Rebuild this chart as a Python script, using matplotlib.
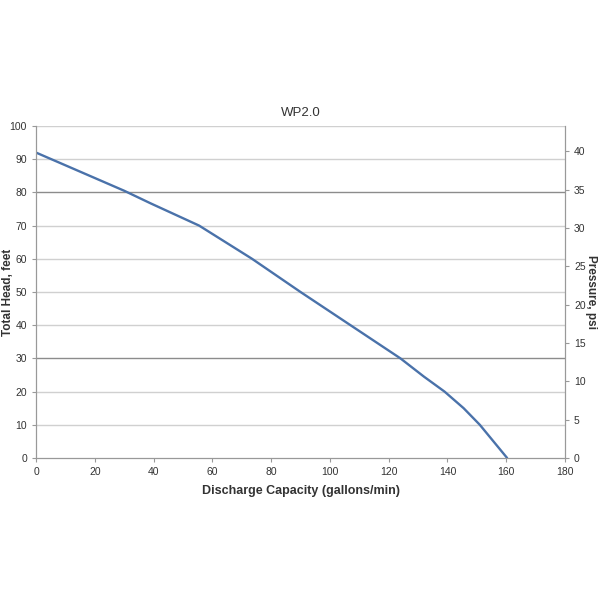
import matplotlib.pyplot as plt

flow = [0, 30, 39, 55.5, 73.5, 90, 107, 124, 132, 139, 145.5, 151, 160.3]
head = [92, 80.5, 76.7, 70, 60, 50, 40, 30, 24.5, 20, 15, 10, 0]
x_ticks = [0, 20, 40, 60, 80, 100, 120, 140, 160, 180]
head_ticks = [0, 10, 20, 30, 40, 50, 60, 70, 80, 90, 100]
psi_ticks = [0, 5, 10, 15, 20, 25, 30, 35, 40]
FT_PER_PSI = 2.31


def main():
	plt.rcParams['font.family'] = ['Liberation Sans', 'DejaVu Sans']
	fig = plt.figure(figsize=(6, 6), dpi=100)
	ax = fig.add_axes([0.06, 0.2367, 0.8817, 0.5533])

	for t in head_ticks[1:]:
		c = '#8c8c8c' if t in (30, 80) else '#d0d0d0'
		ax.axhline(t, color=c, lw=1.0, zorder=1)

	ax.plot(flow, head, color='#4a72aa', lw=1.7, zorder=3, solid_capstyle='round', solid_joinstyle='round')

	ax.set_xlim(0, 180)
	ax.set_ylim(0, 100)
	ax.set_xticks(x_ticks)
	ax.set_yticks(head_ticks)
	ax.tick_params(labelsize=7.5, colors='#333333', length=3, width=0.8)
	ax.tick_params(axis='both', color='#999999')
	ax.spines['top'].set_visible(False)
	for s in ['left', 'bottom', 'right']:
		ax.spines[s].set_color('#999999')
	ax.spines['bottom'].set_color('#8c8c8c')
	ax.set_xlabel('Discharge Capacity (gallons/min)', fontsize=9, fontweight='bold', color='#333333', labelpad=6)
	ax.set_ylabel('Total Head, feet', fontsize=8.5, fontweight='bold', color='#333333', va='center')
	ax.yaxis.set_label_coords(-0.053, 0.5)
	ax.set_title('WP2.0', fontsize=9.5, color='#333333', pad=7)

	ax2 = ax.twinx()
	ax2.set_ylim(0, 100 / FT_PER_PSI)
	ax2.set_yticks(psi_ticks)
	ax2.tick_params(labelsize=7.5, colors='#333333', length=3, width=0.8)
	ax2.tick_params(axis='y', color='#999999')
	ax2.spines['top'].set_visible(False)
	for s in ['left', 'bottom', 'right']:
		ax2.spines[s].set_color('#999999')
	ax2.set_ylabel('Pressure, psi', fontsize=8.5, fontweight='bold', color='#333333', rotation=270, va='center')
	ax2.yaxis.set_label_coords(1.049, 0.5)

	plt.savefig('out.png')


if __name__ == "__main__":
	main()
